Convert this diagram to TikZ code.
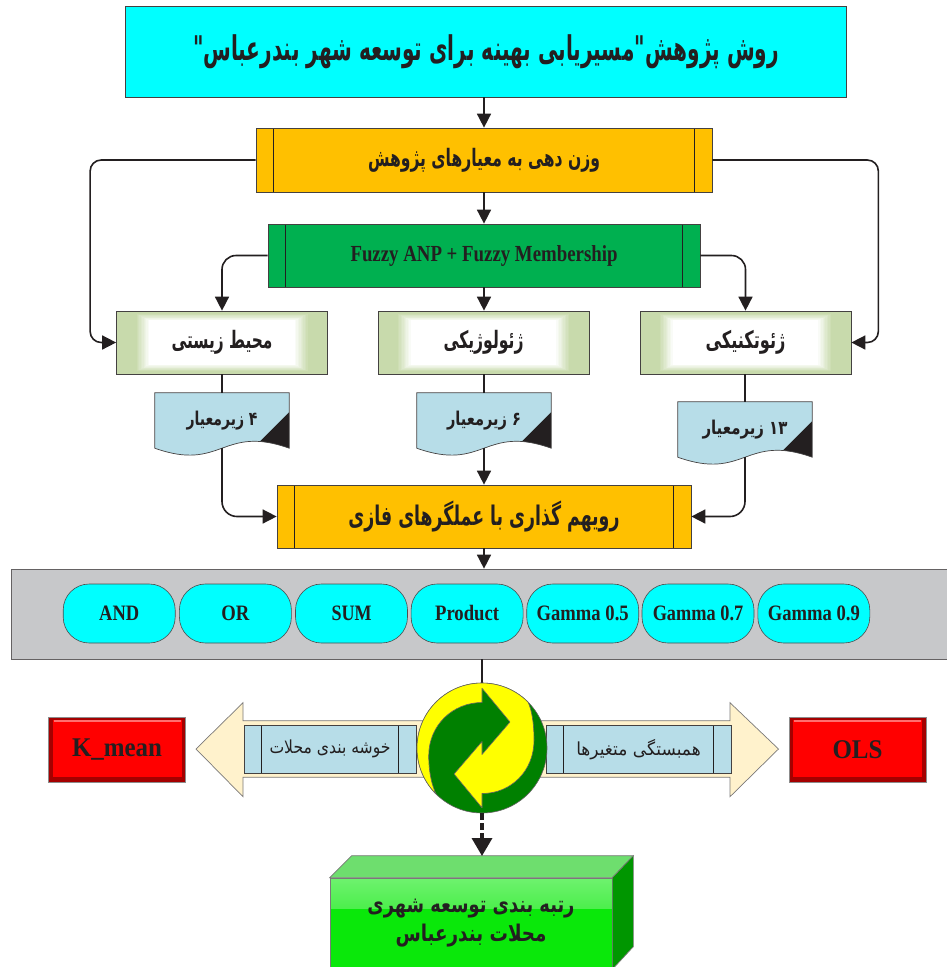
\documentclass[tikz,border=0pt]{standalone}
\usepackage{fontspec}
\setmainfont{Liberation Serif}
\newfontfamily\fa[Script=Arabic]{DejaVu Sans}
\usepackage{graphicx}
\usetikzlibrary{arrows.meta,calc,backgrounds}
\TeXXeTstate=1
\definecolor{cyanC}{RGB}{0,255,255}
\definecolor{goldC}{RGB}{255,192,0}
\definecolor{fuzzC}{RGB}{0,176,80}
\definecolor{lgC}{RGB}{200,218,172}
\definecolor{docC}{RGB}{183,221,232}
\definecolor{bandC}{RGB}{199,200,202}
\definecolor{creamC}{RGB}{255,242,204}
\definecolor{lineC}{RGB}{35,31,32}
\definecolor{redC}{RGB}{255,0,0}
\definecolor{redD}{RGB}{165,0,0}
\definecolor{redL}{RGB}{255,110,110}
\definecolor{recG}{RGB}{0,128,0}
\definecolor{recY}{RGB}{255,255,0}
\definecolor{boxG}{RGB}{10,232,10}
\definecolor{boxL}{RGB}{110,242,110}
\definecolor{boxT}{RGB}{110,222,110}
\definecolor{boxD}{RGB}{0,150,0}
\newcommand\ptxt[3]{\resizebox{#2pt}{\height}{\fontsize{#1}{#1}\selectfont\fa\bfseries #3}}
\newcommand\ptxtr[3]{\resizebox{#2pt}{\height}{\fontsize{#1}{#1}\selectfont\fa #3}}
\newcommand\ltxt[3]{\resizebox{#2pt}{\height}{\fontsize{#1}{#1}\selectfont\bfseries #3}}
\newcommand\docpath[1]{(#1.north west) -- (#1.north east) -- (#1.south east) .. controls ($(#1.south)+(0,-24)$) and ($(#1.south)+(0,24)$) .. (#1.south west) -- cycle}
\begin{document}
\begin{tikzpicture}[x=1pt,y=-1pt,
  every node/.style={inner sep=0pt, text=lineC},
  ln/.style={draw=lineC, line width=1.6pt},
  arr/.style={ln, -{Triangle[length=14pt,width=14pt]}},
  barbox/.style={draw=lineC!85, line width=0.7pt,
    path picture={\draw[lineC, line width=0.6pt]
      ([xshift=17.5pt]path picture bounding box.north west) -- ([xshift=17.5pt]path picture bounding box.south west)
      ([xshift=-17.5pt]path picture bounding box.north east) -- ([xshift=-17.5pt]path picture bounding box.south east);}},
  glow/.style={draw=lineC!85, line width=0.7pt, fill=lgC,
    path picture={\foreach \i [evaluate=\i as \p using int((\i+1)*10)] in {0,...,9}{
      \fill[white!\p!lgC] ($(path picture bounding box.north west)+(20+1.4*\i,3+0.7*\i)$) rectangle ($(path picture bounding box.south east)+(-20-1.4*\i,-3-0.7*\i)$);}}},
  ell/.style={draw=lineC!80, line width=0.6pt, fill=cyanC, rounded corners=26pt, minimum width=112pt, minimum height=59pt, text height=14.5pt, text depth=0pt},
  redbox/.style={draw=black!45, line width=0.7pt, fill=redD, minimum width=137pt, minimum height=65pt,
    path picture={\fill[redC] ($(path picture bounding box.north west)+(4,3)$) rectangle ($(path picture bounding box.south east)+(-4,-5)$);
      \draw[redL, line width=1.2pt] ($(path picture bounding box.north west)+(5,4)$) -- ($(path picture bounding box.north east)+(-5,4)$);}},
  docline/.style={draw=lineC!85, line width=0.7pt}
]
\useasboundingbox (0,0) rectangle (946,967);

% title and upper boxes
\node[draw=lineC!85, line width=0.8pt, fill=cyanC, minimum width=721pt, minimum height=91pt] (title) at (486,51.5)
  {\ptxt{34}{586}{\beginR روش پژوهش"مسیریابی بهینه برای توسعه شهر بندرعباس"\endR}};
\node[barbox, fill=goldC, minimum width=456pt, minimum height=64pt] (w1) at (484,160)
  {\ptxt{24}{232}{\beginR وزن دهی به معیارهای پژوهش\endR}};
\node[barbox, fill=fuzzC, minimum width=432pt, minimum height=63pt] (fz) at (484,255.5)
  {\ltxt{23}{267}{Fuzzy ANP + Fuzzy Membership}};

\node[glow, minimum width=211pt, minimum height=63pt] (bL) at (222,342.5) {\ptxt{24}{101}{\beginR محیط زیستی\endR}};
\node[glow, minimum width=211pt, minimum height=63pt] (bM) at (483.5,342.5) {\ptxt{24}{80}{\beginR ژئولوژیکی\endR}};
\node[glow, minimum width=211pt, minimum height=63pt] (bR) at (745.5,342.5) {\ptxt{24}{80}{\beginR ژئوتکنیکی\endR}};

% documents
\node[minimum width=134pt, minimum height=55pt] (dL) at (222,420.5) {\raisebox{2pt}{\ptxt{19}{71}{\beginR ۴ زیرمعیار\endR}}};
\node[minimum width=134pt, minimum height=55pt] (dM) at (484,420.5) {\raisebox{2pt}{\ptxt{19}{74}{\beginR ۶ زیرمعیار\endR}}};
\node[minimum width=134pt, minimum height=55pt] (dR) at (745,429.5) {\raisebox{2pt}{\ptxt{19}{85}{\beginR\beginL ۱۳\endL{} زیرمعیار\endR}}};
\begin{scope}[on background layer]
\foreach \d in {dL,dM,dR}{
  \fill[docC] \docpath{\d};
  \begin{scope}
    \clip \docpath{\d};
    \fill[lineC] ($(\d.south east)+(0,-36)$) -- ($(\d.south east)+(0,10)$) -- ($(\d.south east)+(-46,10)$) -- cycle;
  \end{scope}
  \draw[docline] \docpath{\d};
}
\end{scope}

\node[barbox, fill=goldC, minimum width=414pt, minimum height=63pt] (y2) at (484,516.5)
  {\ptxt{27}{271}{\beginR رویهم گذاری با عملگرهای فازی\endR}};

% connectors upper part
\draw[arr] (title.south -| w1.north) -- (w1.north);
\draw[arr] (w1.south) -- (fz.north);
\draw[arr] (fz.south) -- (fz.south |- bM.north);
\draw[arr, rounded corners=14pt] (fz.west) -| (bL.north);
\draw[arr, rounded corners=14pt] (fz.east) -| (bR.north);
\draw[arr, rounded corners=11pt] (w1.west) -| ([xshift=-26pt]bL.west) -- (bL.west);
\draw[arr, rounded corners=11pt] (w1.east) -| ([xshift=27pt]bR.east) -- (bR.east);
\draw[ln] (bL.south) -- (dL.north);
\draw[ln] (bM.south -| dM.north) -- (dM.north);
\draw[ln] (bR.south -| dR.north) -- (dR.north);
\draw[arr, rounded corners=15pt] (dL.south) |- (y2.west);
\draw[arr] (dM.south) -- (y2.north);
\draw[arr, rounded corners=15pt] (dR.south) |- (y2.east);

% operator band
\node[draw=lineC!70, line width=0.7pt, fill=bandC, minimum width=939pt, minimum height=90pt] (band) at (480.5,614) {};
\draw[arr] (y2.south) -- (y2.south |- band.north);
\foreach \n/\x/\t/\w in {e1/119.2/AND/40, e2/235.4/OR/28, e3/351.5/SUM/40, e4/467.1/Product/64, e5/582.7/Gamma 0.5/92, e6/698/Gamma 0.7/90.5, e7/813.8/Gamma 0.9/92}
  \node[ell] (\n) at (\x,613.5) {\ltxt{22}{\w}{\t}};

% big double arrow
\filldraw[fill=creamC, draw=lineC!60, line width=0.7pt] (196,749) -- (243,702.7) -- (243,720.7) -- (445,720.7) -- (445,777.3) -- (243,777.3) -- (243,796.7) -- cycle;
\filldraw[fill=creamC, draw=lineC!60, line width=0.7pt] (778.5,749) -- (730,702.7) -- (730,720.7) -- (520,720.7) -- (520,777.3) -- (730,777.3) -- (730,796.7) -- cycle;
\node[barbox, fill=docC, minimum width=172pt, minimum height=48pt] (clL) at (330,749.3) {\ptxtr{18}{121}{\beginR خوشه بندی محلات\endR}};
\node[barbox, fill=docC, minimum width=185pt, minimum height=48pt] (clR) at (638.5,749.3) {\ptxtr{18}{124.5}{\beginR همبستگی متغیرها\endR}};

% recycle symbol
\node[circle, draw=lineC!70, line width=0.6pt, fill=recG, minimum size=130pt] (cir) at (482,748) {};
\draw[ln] (cir.north |- band.south) -- (cir.north);
\begin{scope}[shift={(cir.center)}, x=65pt, y=65pt]
\filldraw[fill=recY, draw=lineC!70, line width=0.6pt, line join=round]
  (225:1) arc[start angle=225, end angle=45, radius=1]
  .. controls (0.76,0.6) and (0.80,0.4) .. (0.80,0.12)
  .. controls (0.80,-0.35) and (0.45,-0.70) .. (0,-0.70)
  -- (0,-0.92) -- (-0.43,-0.40) -- (0,0.1) -- (0,-0.1) -- (0.43,0.40) -- (0,0.92) -- (0,0.70)
  .. controls (-0.45,0.70) and (-0.82,0.35) .. (-0.82,-0.12)
  .. controls (-0.82,-0.4) and (-0.76,-0.6) .. (225:1) -- cycle;
\end{scope}

% red boxes
\node[redbox] (km) at (117,749.5) {\ltxt{27}{90}{K\_mean}};
\node[redbox] (ols) at (857.5,749.5) {\ltxt{27}{50}{OLS}};

% final 3D box
\node[draw=lineC!60, line width=0.7pt, fill=boxG, minimum width=282pt, minimum height=91pt, align=center,
  font=\fontsize{17}{29}\selectfont,
  path picture={\shade[top color=boxL, bottom color=boxG] (path picture bounding box.north west) rectangle ($(path picture bounding box.north east)+(0,30)$);}]
  (rank) at (471,923.5) {\raisebox{-3pt}{\ptxt{23}{207}{\beginR رتبه بندی توسعه شهری\endR}}\\\raisebox{-3pt}{\ptxt{23}{151}{\beginR محلات بندرعباس\endR}}};
\filldraw[fill=boxT, draw=lineC!60, line width=0.7pt] (rank.north west) -- ++(22,-22) -- ($(rank.north east)+(21,-22)$) -- (rank.north east) -- cycle;
\filldraw[fill=boxD, draw=lineC!60, line width=0.7pt] (rank.north east) -- ++(21,-22) -- ++(0,91) -- (rank.south east) -- cycle;
\coordinate (ranktop) at (482,856);
\draw[lineC, line width=3.5pt, dash pattern=on 7pt off 3pt, -{Triangle[length=18pt,width=20pt]}] (cir.south) -- (ranktop);
\end{tikzpicture}
\end{document}
